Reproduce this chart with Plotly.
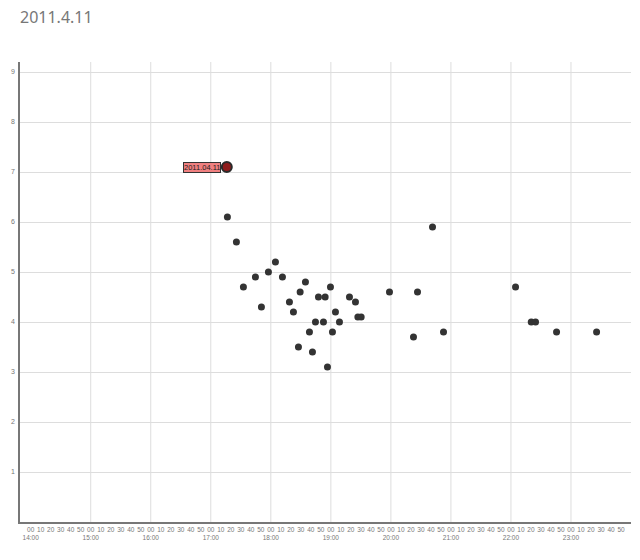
import plotly.graph_objects as go

DAY = "2011-04-11"
times = ["17:16:36", "17:25:36", "17:32:36", "17:44:36", "17:50:36", "17:57:36", "18:04:36",
         "18:11:36", "18:18:36", "18:22:36", "18:27:36", "18:29:18", "18:34:36", "18:38:36",
         "18:41:36", "18:44:36", "18:47:36", "18:52:36", "18:54:18", "18:56:36", "18:59:36",
         "19:01:36", "19:04:36", "19:08:36", "19:18:36", "19:24:36", "19:27:00", "19:30:18",
         "19:58:36", "20:22:36", "20:26:36", "20:41:36", "20:52:36", "22:04:36", "22:20:18",
         "22:24:36", "22:45:36", "23:25:36"]
mags = [6.1, 5.6, 4.7, 4.9, 4.3, 5.0, 5.2,
        4.9, 4.4, 4.2, 3.5, 4.6, 4.8, 3.8,
        3.4, 4.0, 4.5, 4.0, 4.5, 3.1, 4.7,
        3.8, 4.2, 4.0, 4.5, 4.4, 4.1, 4.1,
        4.6, 3.7, 4.6, 5.9, 3.8, 4.7, 4.0,
        4.0, 3.8, 3.8]

main_time = "17:16:00"
main_mag = 7.1
main_label = "2011.04.11"
title_text = "2011.4.11"

hours = list(range(14, 24))
minutes = [0, 10, 20, 30, 40, 50]
y_ticks = [1, 2, 3, 4, 5, 6, 7, 8, 9]

tickvals, ticktext = [], []
for h in hours:
    for m in minutes:
        tickvals.append(f"{DAY} {h:02d}:{m:02d}:00")
        ticktext.append("00<br>" + f"{h}:00" if m == 0 else f"{m}")

FONT = "Liberation Sans, Arial, sans-serif"

fig = go.Figure()
fig.add_trace(go.Scatter(
    x=[f"{DAY} {t}" for t in times], y=mags, mode="markers",
    marker=dict(size=7, color="#333333"), hoverinfo="x+y", showlegend=False))
fig.add_trace(go.Scatter(
    x=[f"{DAY} {main_time}"], y=[main_mag], mode="markers",
    marker=dict(size=10, color="#8e1c1c", line=dict(width=2, color="#2a2a2a")),
    showlegend=False))
fig.add_annotation(
    x=f"{DAY} {main_time}", y=main_mag, text=main_label, showarrow=False,
    xanchor="right", yanchor="middle", xshift=-6,
    font=dict(family=FONT, size=7.5, color="#222222"),
    bgcolor="#f08080", bordercolor="#333333", borderwidth=1, borderpad=0)

fig.update_layout(
    width=640, height=560,
    margin=dict(l=12, r=17, t=54, b=46),
    paper_bgcolor="white", plot_bgcolor="white",
    title=dict(text=title_text, x=0, xref="paper", xanchor="left", y=0.984, yanchor="middle",
               font=dict(family="Noto Sans, sans-serif", size=16, color="#777777")),
    xaxis=dict(
        type="date", automargin=False,
        range=[f"{DAY} 13:49:18", "2011-04-12 00:00:00"],
        tickmode="array", tickvals=tickvals, ticktext=ticktext, tickangle=0,
        showgrid=False, showline=True, linecolor="#777777", linewidth=1.5,
        ticks="", tickfont=dict(family=FONT, size=6.5, color="#777777"),
        zeroline=False, fixedrange=True),
    yaxis=dict(
        automargin=False,
        range=[0, 9.2], tickmode="array", tickvals=y_ticks,
        showgrid=True, gridcolor="#dddddd", gridwidth=1,
        showline=True, linecolor="#777777", linewidth=1.5,
        ticks="", ticklabelstandoff=2,
        tickfont=dict(family=FONT, size=7, color="#777777"),
        zeroline=False, fixedrange=True),
)
# vertical hour gridlines
for h in hours[1:]:
    fig.add_vline(x=f"{DAY} {h:02d}:00:00", line=dict(color="#dddddd", width=1), layer="below")

fig.write_html("out.html")
